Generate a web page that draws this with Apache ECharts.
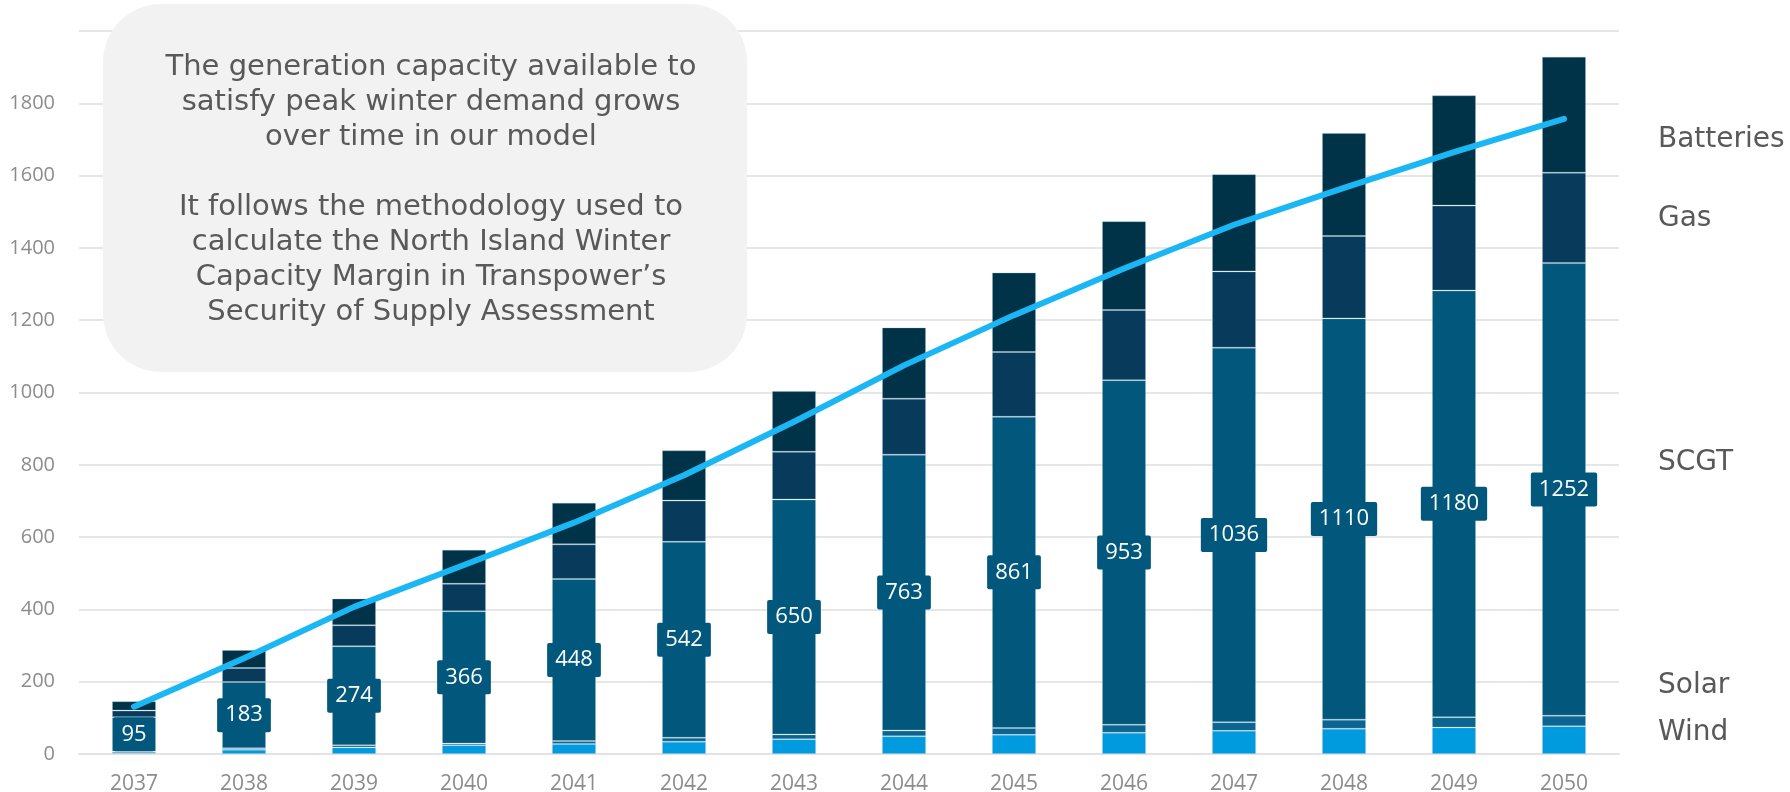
<!DOCTYPE html>
<html>
<head>
<meta charset="utf-8">
<script src="https://cdn.jsdelivr.net/npm/echarts@6/dist/echarts.min.js"></script>
<style>
  html, body { margin: 0; padding: 0; background: #ffffff; }
  #chart { width: 1790px; height: 792px; }
</style>
</head>
<body>
<div id="chart"></div>
<script>
// ---- data ----
const years = ['2037','2038','2039','2040','2041','2042','2043','2044','2045','2046','2047','2048','2049','2050'];
const seriesNames = ['Wind', 'Solar', 'SCGT', 'Gas', 'Batteries'];
const wind      = [3, 12, 18, 24, 28, 34, 41, 49, 53, 59, 64, 70, 73, 77];
const solar     = [4, 4, 6, 5, 8, 11, 13, 16, 19, 22, 24, 25, 29, 29];
const scgt      = [95, 183, 274, 366, 448, 542, 650, 763, 861, 953, 1036, 1110, 1180, 1252];
const gas       = [18, 39, 58, 76, 96, 114, 132, 155, 179, 194, 211, 228, 235, 250];
const batteries = [26, 50, 74, 94, 115, 139, 168, 197, 220, 246, 269, 285, 305, 321];
const peakDemand = [131, 265, 407, 523, 640, 771, 919, 1075, 1214, 1343, 1464, 1566, 1665, 1757];
const yTicks = [0, 200, 400, 600, 800, 1000, 1200, 1400, 1600, 1800, 2000];
const noteLines = [
  'The generation capacity available to',
  'satisfy peak winter demand grows',
  'over time in our model',
  '',
  'It follows the methodology used to',
  'calculate the North Island Winter',
  'Capacity Margin in Transpower\u2019s',
  'Security of Supply Assessment'
];

const FONT = "'Open Sans', 'Noto Sans', sans-serif";
const WIDE = "'DejaVu Sans', 'Open Sans', sans-serif";
const colors = {
  Wind: '#009ADF',
  Solar: '#0A6590',
  SCGT: '#02587C',
  Gas: '#083B5B',
  Batteries: '#013348'
};
const valuesByName = { Wind: wind, Solar: solar, SCGT: scgt, Gas: gas, Batteries: batteries };

const barSeries = seriesNames.map(function (name) {
  const s = {
    name: name,
    type: 'bar',
    stack: 'cap',
    barWidth: 44,
    data: valuesByName[name],
    itemStyle: { color: colors[name], borderColor: 'rgba(140,185,210,0.3)', borderWidth: 1 },
    emphasis: { disabled: true },
    silent: true
  };
  if (name === 'SCGT') {
    s.label = {
      show: true,
      position: 'inside',
      formatter: '{c}',
      color: '#ffffff',
      fontFamily: FONT,
      fontSize: 22,
      backgroundColor: '#02587C',
      padding: [6, 8, 6, 8],
      borderRadius: 2
    };
    s.z = 3;
  }
  return s;
});

// right-side series name labels (layout positions)
const sideLabelY = { Batteries: 140, Gas: 219, SCGT: 463, Solar: 686, Wind: 733 };
const sideLabels = seriesNames.map(function (name) {
  return {
    type: 'text',
    x: 1658,
    y: sideLabelY[name],
    z: 100,
    style: { text: name, fill: '#595959', font: '28px ' + WIDE, verticalAlign: 'middle', align: 'left' }
  };
});

const chart = echarts.init(document.getElementById('chart'), null, { renderer: 'canvas' });
chart.setOption({
  animation: false,
  backgroundColor: '#ffffff',
  grid: { left: 79, right: 171, top: 31, bottom: 38, containLabel: false, outerBoundsMode: 'none' },
  xAxis: {
    type: 'category',
    data: years,
    axisLine: { show: true, lineStyle: { color: '#e3e3e3', width: 2 } },
    axisTick: { show: false },
    axisLabel: { color: '#8c8c8c', fontFamily: FONT, fontSize: 21, margin: 20 }
  },
  yAxis: {
    type: 'value',
    min: yTicks[0],
    max: yTicks[yTicks.length - 1],
    interval: yTicks[1] - yTicks[0],
    axisLine: { show: false },
    axisTick: { show: false },
    splitLine: { lineStyle: { color: '#e6e6e6', width: 2 } },
    axisLabel: {
      color: '#8c8c8c', fontFamily: FONT, fontSize: 20, margin: 24,
      formatter: function (v) { return v === yTicks[yTicks.length - 1] ? '' : String(v); }
    }
  },
  series: barSeries.concat([{
    name: 'Peak demand',
    type: 'line',
    data: peakDemand,
    showSymbol: false,
    symbol: 'none',
    z: 10,
    lineStyle: { color: '#1BB7F4', width: 6, cap: 'round', join: 'round' },
    emphasis: { disabled: true },
    silent: true
  }]),
  graphic: [
    {
      type: 'rect',
      z: 90,
      shape: { x: 103, y: 4, width: 644, height: 368, r: 58 },
      style: { fill: '#f2f2f2' }
    },
    {
      type: 'text',
      z: 91,
      x: 431,
      y: 190,
      style: {
        text: noteLines.join('\n'),
        fill: '#595959',
        font: '29px ' + WIDE,
        lineHeight: 35,
        align: 'center',
        verticalAlign: 'middle'
      }
    }
  ].concat(sideLabels)
});
</script>
</body>
</html>
